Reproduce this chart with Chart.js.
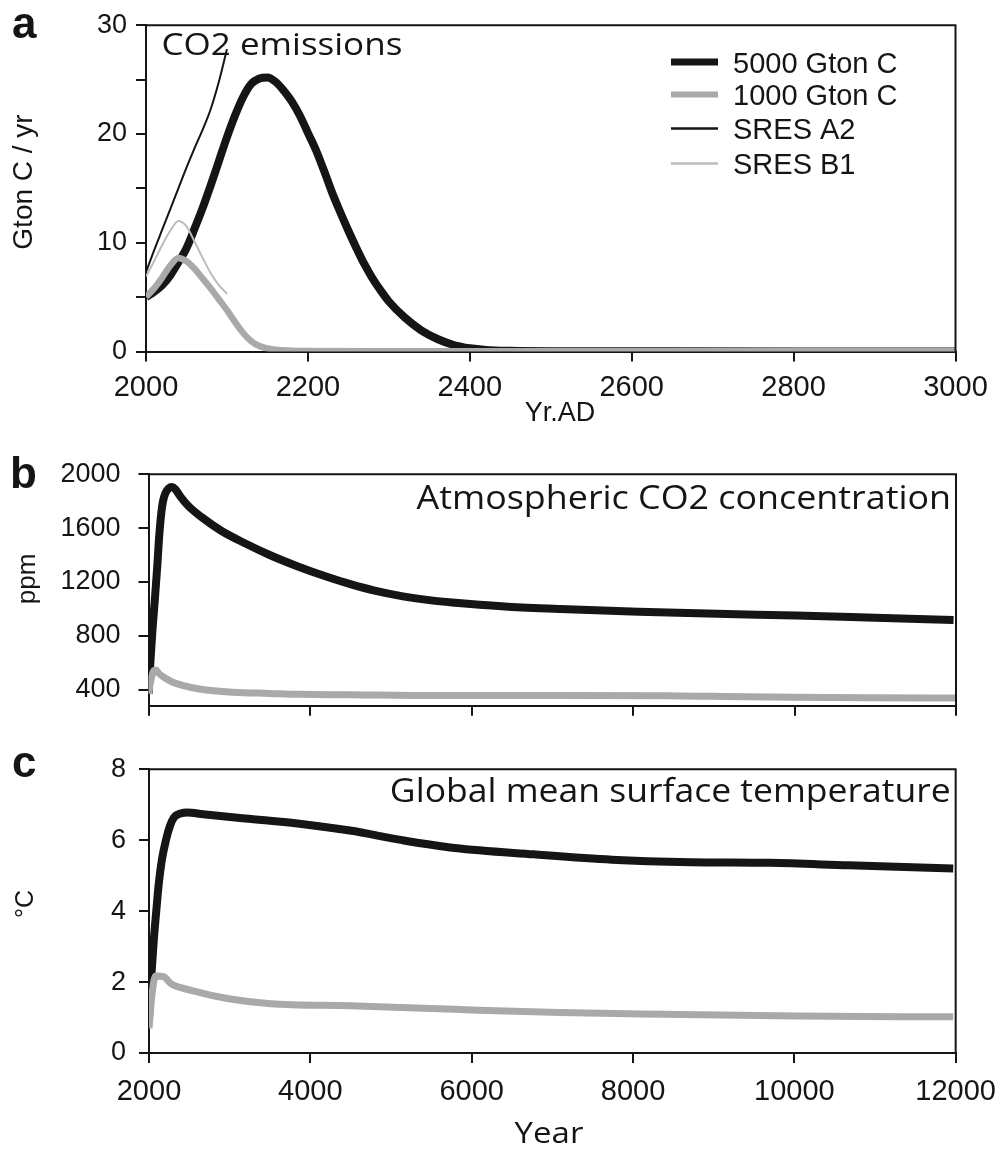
<!DOCTYPE html>
<html>
<head>
<meta charset="utf-8">
<title>Carbon emissions, CO2 and temperature</title>
<script src="https://cdn.jsdelivr.net/npm/chart.js@4.4.0/dist/chart.umd.min.js"></script>
<style>
  html, body { margin: 0; padding: 0; background: #fff; }
  #wrap { position: relative; width: 1008px; height: 1149px; overflow: hidden; }
  canvas { position: absolute; left: 0; display: block; }
</style>
</head>
<body>
<div id="wrap">
  <canvas id="chartA" width="1008" height="440" style="top:0px"></canvas>
  <canvas id="chartB" width="1008" height="300" style="top:440px"></canvas>
  <canvas id="chartC" width="1008" height="409" style="top:740px"></canvas>
</div>
<script>
// ---- Panel a: CO2 emissions (Gton C / yr) ----
const emisYears5000 = [2000,2010,2020,2030,2040,2050,2060,2070,2080,2090,2100,2110,2120,2130,2140,2150,2160,2170,2180,2190,2200,2210,2220,2230,2240,2250,2260,2270,2280,2290,2300,2320,2340,2360,2380,2400,2420,2450,2500,2600,2800,3000];
const emis5000     = [5.0,5.5,6.1,7.0,8.2,9.5,11.3,13.2,15.3,17.5,19.7,21.7,23.4,24.6,25.1,25.2,24.8,24.0,23.0,21.7,20.1,18.5,16.6,14.6,12.8,11.1,9.5,8.0,6.7,5.6,4.6,3.1,1.95,1.15,0.6,0.3,0.15,0.07,0.03,0.02,0.01,0.01];
const emisYears1000 = [2000,2010,2020,2030,2040,2050,2060,2070,2080,2090,2100,2110,2120,2130,2140,2150,2160,2180,2200,2300,2500,3000];
const emis1000     = [5.0,5.8,6.8,7.9,8.6,8.3,7.6,6.7,5.8,4.8,3.8,2.7,1.7,0.95,0.5,0.28,0.16,0.08,0.05,0.03,0.02,0.02];
const sresYears = [2000,2010,2020,2030,2040,2050,2060,2070,2080,2090,2100];
const sresA2    = [7.3,9.3,11.2,13.1,15.0,16.9,18.7,20.4,22.3,24.8,27.8];
const sresB1    = [6.9,8.3,9.8,11.1,12.0,11.5,10.1,8.6,7.2,6.1,5.3];
const emisTicksX = [2000,2200,2400,2600,2800,3000];
const emisTicksY = [0,5,10,15,20,25,30];
const emisLabelsY = [0,10,20,30];

// ---- Panel b: atmospheric CO2 (ppm) ----
const co2Years5000 = [2000,2025,2050,2080,2110,2130,2160,2180,2210,2250,2290,2330,2400,2500,2660,2900,3200,3500,3850,4200,4500,4800,5150,5500,5800,6100,6450,7100,8070,9040,10020,11000,11970];
const co2_5000     = [370,620,850,1080,1330,1520,1720,1800,1860,1895,1905,1890,1830,1760,1680,1580,1485,1400,1315,1240,1183,1135,1093,1063,1045,1030,1016,999,979,963,950,934,918];
const co2Years1000 = [2000,2030,2060,2090,2130,2200,2300,2420,2630,3040,3500,3880,4500,5500,6400,7000,8400,9000,10000,11000,12000];
const co2_1000     = [370,470,535,545,520,488,455,432,405,381,372,365,362,356,356,357,354,350,344,340,337];
const ppmTicks = [400,800,1200,1600,2000];

// ---- Panel c: global mean surface temperature (°C) ----
const tempYears5000 = [2000,2030,2060,2090,2120,2160,2210,2260,2310,2400,2470,2670,3190,3840,4490,5140,5790,6770,7740,8720,9700,10670,11970];
const temp5000      = [1.0,2.2,3.2,4.0,4.75,5.45,6.0,6.4,6.64,6.76,6.78,6.73,6.61,6.47,6.27,6.0,5.78,5.6,5.45,5.38,5.36,5.29,5.2];
const tempYears1000 = [2000,2040,2080,2180,2275,2535,2990,3510,4490,5790,7090,8390,10020,11970];
const temp1000      = [0.7,1.7,2.17,2.15,1.95,1.76,1.53,1.39,1.33,1.23,1.14,1.09,1.04,1.02];
const yearTicks = [2000,4000,6000,8000,10000,12000];
const tempTicks = [0,2,4,6,8];

const legendNames = ['5000 Gton C','1000 Gton C','SRES A2','SRES B1'];

// ---- styling ----
const INK = '#151515';
const GREY = '#a9a9a9';
const LIGHT = '#bcbcbc';
const SANS = '"Liberation Sans", Arial, Helvetica, sans-serif';
const HUMAN = '"Open Sans", "Noto Sans", sans-serif';

const pts = (xs, ys) => xs.map((x, i) => ({ x: x, y: ys[i] }));
const fixTicks = list => scale => { scale.ticks = list.map(v => ({ value: v })); };
const plain = v => String(v);

function lineSet(label, xs, ys, color, width) {
  return {
    label: label, data: pts(xs, ys),
    borderColor: color, backgroundColor: color, borderWidth: width,
    pointRadius: 0, pointHoverRadius: 0, fill: false,
    cubicInterpolationMode: 'monotone', borderCapStyle: 'butt', borderJoinStyle: 'round'
  };
}

function axisLook(extra) {
  return Object.assign({
    type: 'linear',
    grid: { display: true, drawOnChartArea: false, drawTicks: true, tickLength: 10,
            tickWidth: 2, tickColor: INK, color: INK, lineWidth: 2 },
    border: { display: true, color: INK, width: 2 }
  }, extra);
}

function text(ctx, str, x, y, font, align, sx) {
  ctx.save();
  ctx.font = font;
  ctx.fillStyle = INK;
  ctx.textAlign = align || 'left';
  ctx.textBaseline = 'alphabetic';
  ctx.translate(x, y);
  ctx.scale(sx || 1, 1);
  ctx.fillText(str, 0, 0);
  ctx.restore();
}

function vtext(ctx, str, x, y, font) {
  ctx.save();
  ctx.font = font;
  ctx.fillStyle = INK;
  ctx.textAlign = 'center';
  ctx.textBaseline = 'alphabetic';
  ctx.translate(x, y);
  ctx.rotate(-Math.PI / 2);
  ctx.fillText(str, 0, 0);
  ctx.restore();
}

// closes the box on the top and right side of the plotting area, then adds the panel texts
const panelDecor = {
  id: 'panelDecor',
  afterDraw(chart, args, opts) {
    const ctx = chart.ctx, a = chart.chartArea;
    ctx.save();
    ctx.strokeStyle = INK;
    ctx.lineWidth = 2;
    ctx.beginPath();
    ctx.moveTo(a.left - 1, a.top);
    ctx.lineTo(a.right, a.top);
    ctx.lineTo(a.right, a.bottom + 1);
    ctx.stroke();
    ctx.restore();
    if (opts.draw) opts.draw(chart, ctx, a);
  }
};

function baseOptions(pad, yWidth, xHeight, xScale, yScale, draw) {
  xScale.afterFit = s => { s.height = xHeight; };
  yScale.afterFit = s => { s.width = yWidth; };
  return {
    responsive: false,
    animation: false,
    events: [],
    layout: { padding: pad },
    plugins: { legend: { display: false }, tooltip: { enabled: false }, panelDecor: { draw: draw } },
    scales: { x: xScale, y: yScale }
  };
}

// ---------- a ----------
new Chart(document.getElementById('chartA'), {
  type: 'line',
  data: { datasets: [
    lineSet(legendNames[3], sresYears, sresB1, LIGHT, 2),
    lineSet(legendNames[1], emisYears1000, emis1000, GREY, 6.5),
    lineSet(legendNames[0], emisYears5000, emis5000, INK, 8),
    lineSet(legendNames[2], sresYears, sresA2, INK, 2)
  ] },
  plugins: [panelDecor],
  options: baseOptions(
    { top: 22.5, right: 52.5, bottom: 0, left: 0 }, 146, 88.5,
    axisLook({ min: 2000, max: 3000, afterBuildTicks: fixTicks(emisTicksX),
      ticks: { padding: 9, color: INK, font: { family: SANS, size: 29 }, maxRotation: 0, autoSkip: false, callback: plain } }),
    axisLook({ min: 0, max: 30, afterBuildTicks: fixTicks(emisTicksY),
      ticks: { padding: 9, color: INK, font: { family: SANS, size: 27 }, autoSkip: false,
               callback: v => emisLabelsY.includes(v) ? String(v) : '' } }),
    (chart, ctx, a) => {
      text(ctx, 'a', 12, 38, 'bold 44px ' + SANS);
      vtext(ctx, 'Gton C / yr', 32, 182, '28px ' + SANS);
      text(ctx, 'CO2 emissions', a.left + 15.5, 55, '31px ' + HUMAN, 'left', 1.13);
      text(ctx, 'Yr.AD', 560, 421, '27px ' + SANS, 'center');
      // legend
      const ds = chart.data.datasets;
      const order = [2, 1, 3, 0];
      const rows = [62, 94.5, 128.5, 163.5];
      order.forEach((di, r) => {
        const d = ds[di];
        ctx.save();
        ctx.strokeStyle = d.borderColor;
        ctx.lineWidth = di === 2 ? 7 : (di === 1 ? 6 : 2.5);
        ctx.beginPath();
        ctx.moveTo(671, rows[r]);
        ctx.lineTo(718, rows[r]);
        ctx.stroke();
        ctx.restore();
        text(ctx, d.label, 733, rows[r] + 10.5, '29px ' + SANS);
      });
    }
  )
});

// ---------- b ----------
new Chart(document.getElementById('chartB'), {
  type: 'line',
  data: { datasets: [
    lineSet(legendNames[1], co2Years1000, co2_1000, GREY, 7),
    lineSet(legendNames[0], co2Years5000, co2_5000, INK, 8)
  ] },
  plugins: [panelDecor],
  options: baseOptions(
    { top: 27.3, right: 52, bottom: 0, left: 0 }, 148.5, 16.7,
    axisLook({ min: 2000, max: 12000, afterBuildTicks: fixTicks(yearTicks),
      ticks: { display: false } }),
    axisLook({ min: 280, max: 2000, afterBuildTicks: fixTicks(ppmTicks),
      ticks: { padding: 18, color: INK, font: { family: SANS, size: 27 }, autoSkip: false, callback: plain } }),
    (chart, ctx, a) => {
      text(ctx, 'b', 10, 48, 'bold 44px ' + SANS);
      vtext(ctx, 'ppm', 35, 139, '26px ' + SANS);
      text(ctx, 'Atmospheric CO2 concentration', a.right - 5, a.top + 34.4, '32px ' + HUMAN, 'right', 1.12);
    }
  )
});

// ---------- c ----------
new Chart(document.getElementById('chartC'), {
  type: 'line',
  data: { datasets: [
    lineSet(legendNames[1], tempYears1000, temp1000, GREY, 7),
    lineSet(legendNames[0], tempYears5000, temp5000, INK, 8)
  ] },
  plugins: [panelDecor],
  options: baseOptions(
    { top: 26, right: 52, bottom: 0, left: 0 }, 149, 96,
    axisLook({ min: 2000, max: 12000, afterBuildTicks: fixTicks(yearTicks),
      ticks: { padding: 12, color: INK, font: { family: SANS, size: 29 }, maxRotation: 0, autoSkip: false, callback: plain } }),
    axisLook({ min: 0, max: 8, afterBuildTicks: fixTicks(tempTicks),
      ticks: { padding: 13, color: INK, font: { family: SANS, size: 27 }, autoSkip: false, callback: plain } }),
    (chart, ctx, a) => {
      text(ctx, 'c', 12, 37, 'bold 44px ' + SANS);
      vtext(ctx, '°C', 33, 164, '25px ' + SANS);
      text(ctx, 'Global mean surface temperature', a.right - 5, a.top + 32.3, '32px ' + HUMAN, 'right', 1.11);
      text(ctx, 'Year', 549, 403, '30px ' + HUMAN, 'center', 1.1);
    }
  )
});
</script>
</body>
</html>
